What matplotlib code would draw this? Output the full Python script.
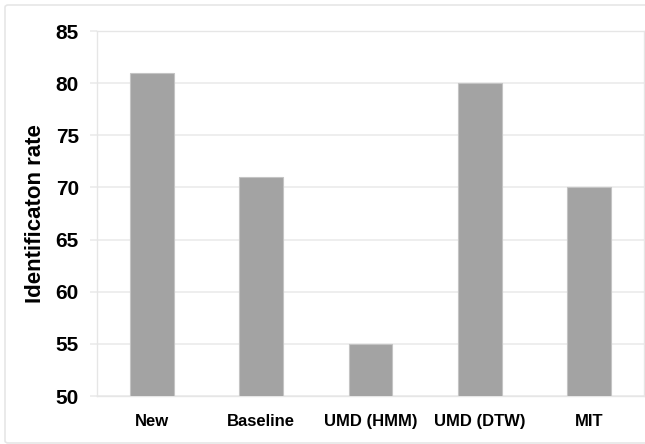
import matplotlib
matplotlib.use("Agg")
import matplotlib.pyplot as plt
from matplotlib.patches import FancyBboxPatch

categories = ["New", "Baseline", "UMD (HMM)", "UMD (DTW)", "MIT"]
rates = [81, 71, 55, 80, 70]
yticks = [50, 55, 60, 65, 70, 75, 80, 85]

plt.rcParams['font.family'] = ['Liberation Sans', 'DejaVu Sans']

fig = plt.figure(figsize=(6.45, 4.44), dpi=100)
fig.patch.set_facecolor("white")

# light outer border around the chart
border = FancyBboxPatch((5 / 645, 1 / 444), 660 / 645, 438 / 444,
                        boxstyle="round,pad=0,rounding_size=0.005",
                        transform=fig.transFigure, facecolor="none",
                        edgecolor="#e6e6e6", linewidth=1.2, clip_on=False)
fig.patches.append(border)

ax = fig.add_axes([97 / 645, (444 - 396) / 444, (644 - 97) / 645, (396 - 31) / 444])

x = range(len(categories))
ax.bar(x, rates, width=0.4, color="#a3a3a3", edgecolor="#c4c4c4",
       linewidth=0.8, zorder=3)

ax.set_ylim(50, 85)
ax.set_xlim(-0.5, len(categories) - 0.5)
ax.set_yticks(yticks)
ax.set_xticks(list(x))
ax.set_xticklabels(categories, fontsize=12, fontweight="bold")
ax.set_yticklabels([str(v) for v in yticks], fontsize=15, fontweight="bold")

ax.yaxis.grid(True, color="#ebebeb", linewidth=1.2, zorder=0)
ax.set_axisbelow(True)
ax.tick_params(axis="x", length=0, pad=13)
ax.tick_params(axis="y", length=5, width=1.2, color="#ebebeb", pad=8)

for side in ["left", "right", "top", "bottom"]:
    ax.spines[side].set_color("#e6e6e6")
    ax.spines[side].set_linewidth(1.0)

ax.set_ylabel("Identificaton rate", fontsize=16, fontweight="bold", labelpad=7)

fig.savefig("out.png", dpi=100, facecolor="white")
